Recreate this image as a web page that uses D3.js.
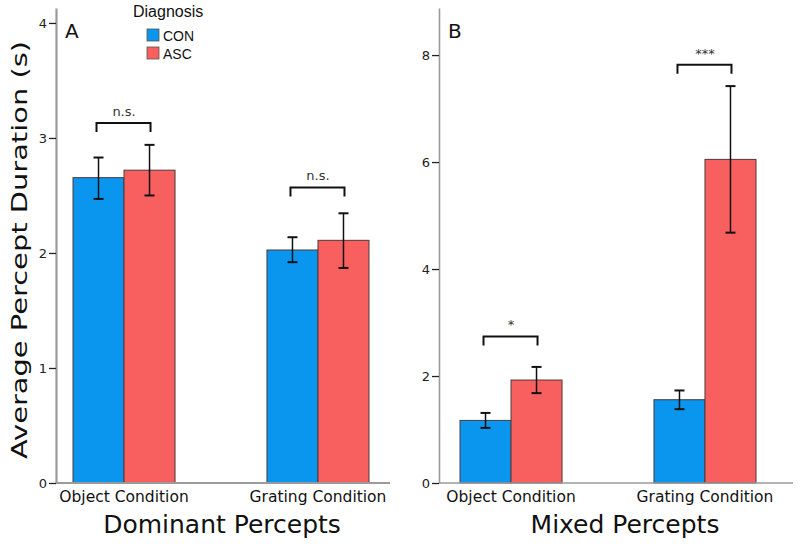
<!DOCTYPE html>
<html>
<head>
<meta charset="utf-8">
<script src="https://cdn.jsdelivr.net/npm/d3@7"></script>
<style>
  body { margin: 0; background: #fff; }
  svg { font-family: "DejaVu Sans", Verdana, sans-serif; }
</style>
</head>
<body>
<div id="chart"></div>
<script>
// categories
var conditions = ["Object Condition", "Grating Condition"];
var groups = ["CON", "ASC"];

// panel A: dominant percepts (mean, lower, upper)
var domCON = [2.655, 2.026];
var domCONLo = [2.47, 1.92];
var domCONHi = [2.83, 2.137];
var domASC = [2.72, 2.11];
var domASCLo = [2.50, 1.87];
var domASCHi = [2.94, 2.345];
var domSig = ["n.s.", "n.s."];
var domBracket = [3.13, 2.57];
var domTicks = [0, 1, 2, 3, 4];

// panel B: mixed percepts
var mixCON = [1.17, 1.557];
var mixCONLo = [1.03, 1.38];
var mixCONHi = [1.31, 1.73];
var mixASC = [1.925, 6.05];
var mixASCLo = [1.68, 4.68];
var mixASCHi = [2.17, 7.42];
var mixSig = ["*", "***"];
var mixBracket = [2.74, 7.82];
var mixTicks = [0, 2, 4, 6, 8];

var colors = { CON: "#0a95ef", ASC: "#f8605f" };

var svg = d3.select("#chart").append("svg")
  .attr("width", 800)
  .attr("height", 547);

function drawPanel(opt) {
  var g = svg.append("g");

  var x = d3.scaleBand()
    .domain(conditions)
    .range(opt.bandRange)
    .paddingInner(0.474)
    .paddingOuter(0.098);

  var xs = d3.scaleBand()
    .domain(groups)
    .range([0, x.bandwidth()]);

  var y = d3.scaleLinear()
    .domain([0, opt.yMax])
    .range([483, 8]);

  // rows of data
  var rows = [];
  conditions.forEach(function(c, i) {
    rows.push({ cond: c, grp: "CON", v: opt.con[i], lo: opt.conLo[i], hi: opt.conHi[i] });
    rows.push({ cond: c, grp: "ASC", v: opt.asc[i], lo: opt.ascLo[i], hi: opt.ascHi[i] });
  });

  // bars
  g.selectAll("rect.bar")
    .data(rows)
    .enter().append("rect")
    .attr("class", "bar")
    .attr("x", function(d) { return x(d.cond) + xs(d.grp); })
    .attr("y", function(d) { return y(d.v); })
    .attr("width", xs.bandwidth())
    .attr("height", function(d) { return y(0) - y(d.v); })
    .attr("fill", function(d) { return colors[d.grp]; })
    .attr("stroke", "#4a3a3a")
    .attr("stroke-width", 1);

  // error bars
  var eb = g.selectAll("g.err")
    .data(rows)
    .enter().append("g")
    .attr("class", "err")
    .attr("transform", function(d) { return "translate(" + (x(d.cond) + xs(d.grp) + xs.bandwidth() / 2) + ",0)"; });
  eb.append("line")
    .attr("y1", function(d) { return y(d.lo); })
    .attr("y2", function(d) { return y(d.hi); })
    .attr("stroke", "#111").attr("stroke-width", 1.5);
  eb.append("line")
    .attr("x1", -5).attr("x2", 5)
    .attr("y1", function(d) { return y(d.hi); })
    .attr("y2", function(d) { return y(d.hi); })
    .attr("stroke", "#111").attr("stroke-width", 2);
  eb.append("line")
    .attr("x1", -5).attr("x2", 5)
    .attr("y1", function(d) { return y(d.lo); })
    .attr("y2", function(d) { return y(d.lo); })
    .attr("stroke", "#111").attr("stroke-width", 2);

  // significance brackets
  var br = g.selectAll("g.sig")
    .data(conditions)
    .enter().append("g")
    .attr("class", "sig");
  br.append("path")
    .attr("d", function(c, i) {
      var x0 = x(c) + xs.bandwidth() / 2 - 2;
      var x1 = x(c) + xs.bandwidth() * 1.5 + 1;
      var yt = y(opt.bracket[i]);
      return "M" + x0 + "," + (yt + 9) + "V" + yt + "H" + x1 + "V" + (yt + 9);
    })
    .attr("fill", "none")
    .attr("stroke", "#111")
    .attr("stroke-width", 2);
  br.append("text")
    .attr("x", function(c) { return x(c) + xs.bandwidth(); })
    .attr("y", function(c, i) { return y(opt.bracket[i]) - 7; })
    .attr("text-anchor", "middle")
    .attr("font-size", 13)
    .attr("fill", "#333")
    .text(function(c, i) { return opt.sig[i]; });

  // y axis
  var yAxis = g.append("g")
    .attr("transform", "translate(" + opt.axisX + ",0)")
    .call(d3.axisLeft(y).tickValues(opt.ticks).tickFormat(d3.format("d"))
      .tickSize(7).tickPadding(2).tickSizeOuter(0));
  yAxis.select(".domain").attr("stroke", "#9a9a9a").attr("stroke-width", opt.axisW);
  yAxis.selectAll(".tick line").attr("stroke", "#222").attr("stroke-width", 1.3);
  yAxis.selectAll(".tick text")
    .attr("font-family", "DejaVu Sans, Verdana, sans-serif")
    .attr("font-size", 13).attr("fill", "#222");

  // x axis
  var xAxis = g.append("g")
    .attr("transform", "translate(0," + y(0) + ")")
    .call(d3.axisBottom(x).tickSize(0).tickPadding(8));
  xAxis.select(".domain").remove();
  xAxis.append("line")
    .attr("x1", opt.axisX).attr("x2", opt.axisEnd)
    .attr("stroke", "#9a9a9a").attr("stroke-width", opt.axisW);
  xAxis.selectAll(".tick text")
    .attr("font-family", "DejaVu Sans, Verdana, sans-serif")
    .attr("font-size", 15.5).attr("fill", "#111");

  // x title
  g.append("text")
    .attr("x", opt.titleX)
    .attr("y", 533)
    .attr("text-anchor", "middle")
    .attr("font-size", 25)
    .attr("fill", "#111")
    .text(opt.title);

  // panel letter
  g.append("text")
    .attr("x", opt.axisX + 9)
    .attr("y", 38)
    .attr("font-size", 20)
    .attr("fill", "#111")
    .text(opt.letter);
}

drawPanel({
  bandRange: [54, 388], axisX: 56, axisEnd: 390, axisW: 2.2, yMax: 4.13,
  con: domCON, conLo: domCONLo, conHi: domCONHi,
  asc: domASC, ascLo: domASCLo, ascHi: domASCHi,
  sig: domSig, bracket: domBracket, ticks: domTicks,
  title: "Dominant Percepts", titleX: 222, letter: "A"
});

drawPanel({
  bandRange: [441, 775], axisX: 439, axisEnd: 793, axisW: 1.6, yMax: 8.88,
  con: mixCON, conLo: mixCONLo, conHi: mixCONHi,
  asc: mixASC, ascLo: mixASCLo, ascHi: mixASCHi,
  sig: mixSig, bracket: mixBracket, ticks: mixTicks,
  title: "Mixed Percepts", titleX: 625, letter: "B"
});

// shared y title
svg.append("text")
  .attr("transform", "translate(27,250) rotate(-90)")
  .attr("text-anchor", "middle")
  .attr("font-size", 22)
  .attr("textLength", 418)
  .attr("lengthAdjust", "spacingAndGlyphs")
  .attr("fill", "#111")
  .text("Average Percept Duration (s)");

// legend
var legend = svg.append("g")
  .attr("font-family", "Liberation Sans, Arial, sans-serif");
legend.append("text")
  .attr("x", 133).attr("y", 17)
  .attr("font-size", 16).attr("fill", "#111")
  .text("Diagnosis");
var li = legend.selectAll("g.li")
  .data(groups)
  .enter().append("g")
  .attr("class", "li")
  .attr("transform", function(d, i) { return "translate(147," + (29 + i * 18) + ")"; });
li.append("rect")
  .attr("width", 12).attr("height", 12)
  .attr("fill", function(d) { return colors[d]; })
  .attr("stroke", "#555").attr("stroke-width", 0.8);
li.append("text")
  .attr("x", 16).attr("y", 11.5)
  .attr("font-size", 14).attr("fill", "#111")
  .text(function(d) { return d; });
</script>
</body>
</html>
